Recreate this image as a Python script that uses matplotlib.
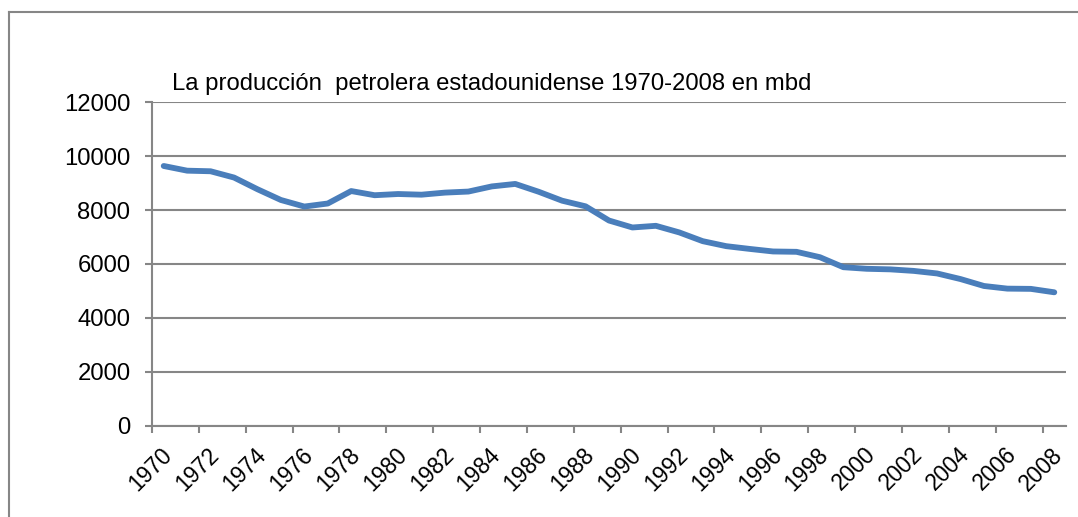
import matplotlib
matplotlib.use("Agg")
import matplotlib.pyplot as plt
from matplotlib.lines import Line2D
import matplotlib.transforms as mtransforms

years = list(range(1970, 2009))
production = [9637, 9463, 9441, 9208, 8774, 8375, 8132, 8245, 8707, 8552,
              8597, 8572, 8649, 8688, 8879, 8971, 8680, 8349, 8140, 7613,
              7355, 7417, 7171, 6847, 6662, 6560, 6465, 6452, 6252, 5881,
              5822, 5801, 5744, 5649, 5441, 5184, 5086, 5077, 4950]
yticks = [0, 2000, 4000, 6000, 8000, 10000, 12000]
title = "La producción  petrolera estadounidense 1970-2008 en mbd"

W, H = 1078, 517
fig = plt.figure(figsize=(W / 100, H / 100), dpi=100)
plt.rcParams['font.family'] = ['Liberation Sans', 'DejaVu Sans']

gray = '#868686'
fs = 17.2
fsx = 16.4

ax = fig.add_axes([152 / W, 1 - 425.7 / H, (1066 - 152) / W, (425.7 - 102.3) / H])
x = list(range(len(years)))
ax.plot(x, production, color='#4A7EBB', lw=4.2, solid_capstyle='round', solid_joinstyle='round', zorder=3)

ax.set_xlim(-0.5, len(years) - 0.5)
ax.set_ylim(0, 12000)
ax.set_yticks(yticks)
ax.set_yticklabels([str(v) for v in yticks], fontsize=fs)
ax.yaxis.grid(True, color=gray, lw=1.5)
ax.set_axisbelow(True)

lab_pos = x[::2]
ax.set_xticks(lab_pos)
ax.set_xticklabels([str(years[i]) for i in lab_pos], fontsize=fsx, rotation=45,
                   ha='right', va='top', rotation_mode='anchor')
ax.set_xticks([i - 0.5 for i in lab_pos], minor=True)
ax.tick_params(axis='x', which='major', length=0, pad=12.5)
ax.tick_params(axis='x', which='minor', length=5, width=1.5, color=gray, direction='out')
ax.tick_params(axis='y', length=5, width=1.5, color=gray, direction='out', pad=10.5)

offset = mtransforms.ScaledTranslation(-3 / 100, 0, fig.dpi_scale_trans)
for lbl in ax.get_xticklabels():
    lbl.set_transform(lbl.get_transform() + offset)

for side in ['top', 'right']:
    ax.spines[side].set_visible(False)
for side in ['left', 'bottom']:
    ax.spines[side].set_color(gray)
    ax.spines[side].set_linewidth(1.5)

fig.text(172 / W, 1 - 90 / H, title, fontsize=fs, ha='left', va='baseline')

# chart area border
fig.add_artist(Line2D([8.5 / W, 8.5 / W], [0, 1 - 12 / H], color=gray, lw=1.5, transform=fig.transFigure))
fig.add_artist(Line2D([8.5 / W, 1], [1 - 12 / H, 1 - 12 / H], color=gray, lw=1.5, transform=fig.transFigure))

fig.savefig("out.png", dpi=100)
